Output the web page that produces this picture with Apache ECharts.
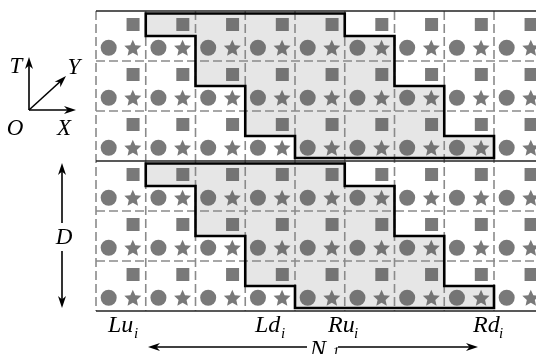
<!DOCTYPE html>
<html><head><meta charset="utf-8">
<script src="https://cdn.jsdelivr.net/npm/echarts@6/dist/echarts.min.js"></script>
<style>html,body{margin:0;padding:0;background:#fff;}#c{width:536px;height:354px;}</style>
</head><body><div id="c"></div>
<script>
// ---- data ----
const columns = [0, 1, 2, 3, 4, 5, 6, 7, 8];   // cell columns (the last one is cut by the frame)
const rows = [0, 1, 2, 3, 4, 5];               // cell rows, two blocks of three
const blockStarts = [0, 3];                    // first row of each block
const blockEdges = [0, 3, 6];                  // solid separator rows
const stairLeft = [1, 2, 2, 3, 3, 4];          // left column of the shaded band, per half-row
const stairRight = [5, 6, 6, 7, 7, 8];         // right column of the shaded band, per half-row
const axisNames = ['T', 'Y', 'O', 'X'];
const sideLabel = 'D';
const bottomNames = ['Lu', 'Ld', 'Ru', 'Rd'];
const bottomSub = 'i';
const spanLabel = 'N';
const spanSub = '1';

// ---- layout ----
const CW = 49.75, GL = 96, GT = 11, GW = 440, GH = 300;
const XMAX = GW / CW;
const serif = 'Liberation Serif';
const ink = '#585858';

function starPath() {
  let d = '';
  for (let k = 0; k < 10; k++) {
    const r = k % 2 === 0 ? 1 : 0.47;
    const a = -Math.PI / 2 + k * Math.PI / 5;
    d += (k === 0 ? 'M' : 'L') + (r * Math.cos(a)).toFixed(4) + ' ' + (r * Math.sin(a)).toFixed(4) + ' ';
  }
  return 'path://' + d + 'Z';
}

function cellPoints(dx, dy) {
  const out = [];
  rows.forEach(r => columns.forEach(c => out.push([c + dx, r + dy])));
  return out;
}

// polygons of the shaded bands
const bands = blockStarts.map(s => {
  const pts = [];
  for (let k = 0; k < stairRight.length; k++) {
    pts.push([stairRight[k], s + k * 0.5]);
    pts.push([stairRight[k], s + (k + 1) * 0.5]);
  }
  for (let k = stairLeft.length - 1; k >= 0; k--) {
    pts.push([stairLeft[k], s + (k + 1) * 0.5]);
    pts.push([stairLeft[k], s + k * 0.5]);
  }
  return pts;
});

// grid line segments
const dashedSegs = [];
columns.forEach(c => dashedSegs.push([c, 0, c, rows.length]));
rows.forEach(r => { if (!blockEdges.includes(r)) dashedSegs.push([0, r, XMAX, r]); });
const solidSegs = blockEdges.map(r => [0, r, XMAX, r]);

function bandRender(fill) {
  return function (params, api) {
    const s = blockStarts[params.dataIndex];
    const topPx = api.coord([0, s])[1], botPx = api.coord([0, s + 3])[1];
    const pts = bands[params.dataIndex].map(p => {
      const q = api.coord(p);
      if (Math.abs(q[1] - topPx) < 0.5) q[1] += 2.5;
      if (Math.abs(q[1] - botPx) < 0.5) q[1] -= 3;
      return q;
    });
    return {
      type: 'polygon',
      shape: { points: pts },
      style: fill ? { fill: '#e6e6e6', stroke: null } : { fill: null, stroke: '#000', lineWidth: 2.6, lineJoin: 'miter' }
    };
  };
}

function segRender(style) {
  return function (params, api) {
    const a = api.coord([api.value(0), api.value(1)]);
    const b = api.coord([api.value(2), api.value(3)]);
    return { type: 'line', shape: { x1: a[0], y1: a[1], x2: b[0], y2: b[1] }, style: style };
  };
}

// ---- annotation helpers ----
function txt(str, x, y, size, align) {
  return { type: 'text', x: x, y: y, z: 10, style: { text: str, fontFamily: serif, fontStyle: 'italic', fontSize: size, fill: '#000', align: align || 'left', verticalAlign: 'middle' } };
}
function seg(x1, y1, x2, y2) {
  return { type: 'line', z: 10, shape: { x1, y1, x2, y2 }, style: { stroke: '#000', lineWidth: 1.6 } };
}
function head(x, y, ang) {
  const L = 12, W = 4;
  const c = Math.cos(ang), s = Math.sin(ang);
  const bx = x - L * c, by = y - L * s;
  const mx = x - L * 0.7 * c, my = y - L * 0.7 * s;
  return { type: 'polygon', z: 10, shape: { points: [[x, y], [bx - W * s, by + W * c], [mx, my], [bx + W * s, by - W * c]] }, style: { fill: '#000' } };
}

const O = [29, 110];
const graphics = [
  seg(O[0], O[1], O[0], 60), head(O[0], 57, -Math.PI / 2),
  seg(O[0], O[1], 72, O[1]), head(76, O[1], 0),
  seg(O[0], O[1], 63, 79), head(66, 76, -Math.PI / 4),
  txt(axisNames[0], 16, 67, 23, 'center'),
  txt(axisNames[1], 74, 68, 23, 'center'),
  txt(axisNames[2], 15, 129, 23, 'center'),
  txt(axisNames[3], 64, 129, 23, 'center'),
  // D arrow
  seg(62, 166, 62, 223), seg(62, 251, 62, 305),
  head(62, 163, -Math.PI / 2), head(62, 308, Math.PI / 2),
  txt(sideLabel, 64, 238, 23, 'center'),
  // bottom labels
  txt(bottomNames[0], 108, 326, 24), txt(bottomSub, 134, 334, 15),
  txt(bottomNames[1], 255, 326, 24), txt(bottomSub, 281, 334, 15),
  txt(bottomNames[2], 328, 326, 24), txt(bottomSub, 354, 334, 15),
  txt(bottomNames[3], 473, 326, 24), txt(bottomSub, 499, 334, 15),
  // N1 arrow
  seg(151, 347, 307, 347), seg(338, 347, 475, 347),
  head(148, 347, Math.PI), head(478, 347, 0),
  txt(spanLabel, 310, 350, 24), txt(spanSub, 332, 353, 15)
];

const chart = echarts.init(document.getElementById('c'), null, { renderer: 'canvas' });
chart.setOption({
  animation: false,
  backgroundColor: '#fff',
  grid: { left: GL, top: GT, width: GW, height: GH },
  xAxis: { type: 'value', min: 0, max: XMAX, show: false },
  yAxis: { type: 'value', min: 0, max: rows.length, inverse: true, show: false },
  graphic: graphics,
  series: [
    { type: 'custom', z: 1, clip: false, data: blockStarts, renderItem: bandRender(true) },
    { type: 'custom', z: 2, clip: false, data: dashedSegs, renderItem: segRender({ stroke: '#8a8a8a', lineWidth: 1.6, lineDash: [9, 4] }) },
    { type: 'scatter', z: 3, symbol: 'rect', symbolSize: 13, itemStyle: { color: ink }, data: cellPoints(0.745, 0.27) },
    { type: 'scatter', z: 3, symbol: 'circle', symbolSize: 16, itemStyle: { color: ink }, data: cellPoints(0.255, 0.735) },
    { type: 'scatter', z: 3, symbol: starPath(), symbolSize: [17, 16], itemStyle: { color: ink }, data: cellPoints(0.74, 0.735) },
    { type: 'custom', z: 4, clip: false, data: blockStarts, renderItem: bandRender(false) },
    { type: 'custom', z: 4, clip: false, data: solidSegs, renderItem: segRender({ stroke: '#222', lineWidth: 1.5 }) }
  ]
});
</script>
</body></html>
